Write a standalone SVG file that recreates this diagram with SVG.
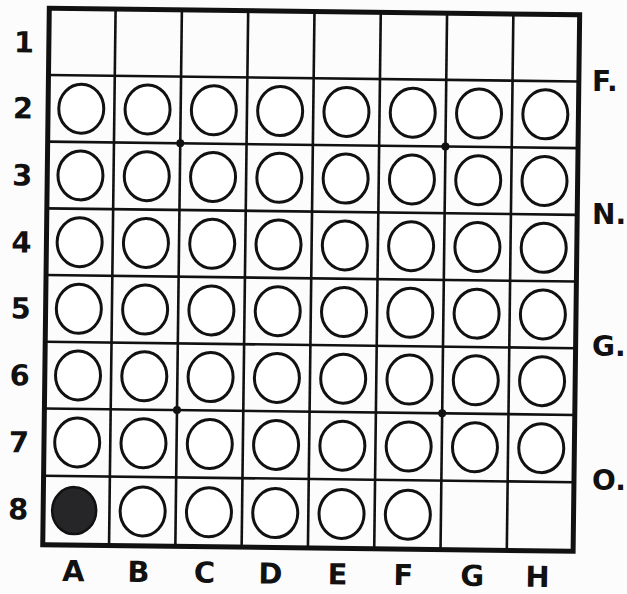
<svg xmlns="http://www.w3.org/2000/svg" width="627" height="594" viewBox="0 0 627 594">
<style>
.grid{stroke:#111;stroke-width:2.6;fill:none}
.border{stroke:#111;stroke-width:5;fill:none}
.pc{fill:#fff;stroke:#111;stroke-width:3}
.blk{fill:#262628;stroke:#111;stroke-width:2.5}
.star{fill:#111}
.lbl{font-family:"DejaVu Sans",sans-serif;font-weight:bold;font-size:29px;fill:#111;text-anchor:middle}
.side{font-family:"DejaVu Sans",sans-serif;font-weight:bold;font-size:28px;fill:#111}
</style>
<rect width="627" height="594" fill="#fcfcfc"/>
<g transform="rotate(0.7 311 280)">
<g id="board">
<rect class="border" x="46" y="11.5" width="530.4" height="536.5"/>
<g id="connectors" class="grid">
<line x1="112.3" y1="11.5" x2="112.3" y2="548"/>
<line x1="178.6" y1="11.5" x2="178.6" y2="548"/>
<line x1="244.9" y1="11.5" x2="244.9" y2="548"/>
<line x1="311.2" y1="11.5" x2="311.2" y2="548"/>
<line x1="377.5" y1="11.5" x2="377.5" y2="548"/>
<line x1="443.8" y1="11.5" x2="443.8" y2="548"/>
<line x1="510.1" y1="11.5" x2="510.1" y2="548"/>
<line x1="46" y1="78.2" x2="576.4" y2="78.2"/>
<line x1="46" y1="144.9" x2="576.4" y2="144.9"/>
<line x1="46" y1="211.6" x2="576.4" y2="211.6"/>
<line x1="46" y1="278.3" x2="576.4" y2="278.3"/>
<line x1="46" y1="345" x2="576.4" y2="345"/>
<line x1="46" y1="411.7" x2="576.4" y2="411.7"/>
<line x1="46" y1="479" x2="576.4" y2="479"/>
</g>
<g id="stars" class="star">
<circle cx="178.6" cy="144.9" r="4"/>
<circle cx="443.8" cy="144.9" r="4"/>
<circle cx="178.6" cy="411.7" r="4"/>
<circle cx="443.8" cy="411.7" r="4"/>
</g>
</g>
<g id="pieces">
<g id="row2">
<ellipse class="pc" cx="79.2" cy="111.5" rx="22.5" ry="24.5"/>
<ellipse class="pc" cx="145.5" cy="111.5" rx="22.5" ry="24.5"/>
<ellipse class="pc" cx="211.8" cy="111.5" rx="22.5" ry="24.5"/>
<ellipse class="pc" cx="278.1" cy="111.5" rx="22.5" ry="24.5"/>
<ellipse class="pc" cx="344.4" cy="111.5" rx="22.5" ry="24.5"/>
<ellipse class="pc" cx="410.7" cy="111.5" rx="22.5" ry="24.5"/>
<ellipse class="pc" cx="477" cy="111.5" rx="22.5" ry="24.5"/>
<ellipse class="pc" cx="543.3" cy="111.5" rx="22.5" ry="24.5"/>
</g>
<g id="row3">
<ellipse class="pc" cx="79.2" cy="178.2" rx="22.5" ry="24.5"/>
<ellipse class="pc" cx="145.5" cy="178.2" rx="22.5" ry="24.5"/>
<ellipse class="pc" cx="211.8" cy="178.2" rx="22.5" ry="24.5"/>
<ellipse class="pc" cx="278.1" cy="178.2" rx="22.5" ry="24.5"/>
<ellipse class="pc" cx="344.4" cy="178.2" rx="22.5" ry="24.5"/>
<ellipse class="pc" cx="410.7" cy="178.2" rx="22.5" ry="24.5"/>
<ellipse class="pc" cx="477" cy="178.2" rx="22.5" ry="24.5"/>
<ellipse class="pc" cx="543.3" cy="178.2" rx="22.5" ry="24.5"/>
</g>
<g id="row4">
<ellipse class="pc" cx="79.2" cy="245" rx="22.5" ry="24.5"/>
<ellipse class="pc" cx="145.5" cy="245" rx="22.5" ry="24.5"/>
<ellipse class="pc" cx="211.8" cy="245" rx="22.5" ry="24.5"/>
<ellipse class="pc" cx="278.1" cy="245" rx="22.5" ry="24.5"/>
<ellipse class="pc" cx="344.4" cy="245" rx="22.5" ry="24.5"/>
<ellipse class="pc" cx="410.7" cy="245" rx="22.5" ry="24.5"/>
<ellipse class="pc" cx="477" cy="245" rx="22.5" ry="24.5"/>
<ellipse class="pc" cx="543.3" cy="245" rx="22.5" ry="24.5"/>
</g>
<g id="row5">
<ellipse class="pc" cx="79.2" cy="311.6" rx="22.5" ry="24.5"/>
<ellipse class="pc" cx="145.5" cy="311.6" rx="22.5" ry="24.5"/>
<ellipse class="pc" cx="211.8" cy="311.6" rx="22.5" ry="24.5"/>
<ellipse class="pc" cx="278.1" cy="311.6" rx="22.5" ry="24.5"/>
<ellipse class="pc" cx="344.4" cy="311.6" rx="22.5" ry="24.5"/>
<ellipse class="pc" cx="410.7" cy="311.6" rx="22.5" ry="24.5"/>
<ellipse class="pc" cx="477" cy="311.6" rx="22.5" ry="24.5"/>
<ellipse class="pc" cx="543.3" cy="311.6" rx="22.5" ry="24.5"/>
</g>
<g id="row6">
<ellipse class="pc" cx="79.2" cy="378.3" rx="22.5" ry="24.5"/>
<ellipse class="pc" cx="145.5" cy="378.3" rx="22.5" ry="24.5"/>
<ellipse class="pc" cx="211.8" cy="378.3" rx="22.5" ry="24.5"/>
<ellipse class="pc" cx="278.1" cy="378.3" rx="22.5" ry="24.5"/>
<ellipse class="pc" cx="344.4" cy="378.3" rx="22.5" ry="24.5"/>
<ellipse class="pc" cx="410.7" cy="378.3" rx="22.5" ry="24.5"/>
<ellipse class="pc" cx="477" cy="378.3" rx="22.5" ry="24.5"/>
<ellipse class="pc" cx="543.3" cy="378.3" rx="22.5" ry="24.5"/>
</g>
<g id="row7">
<ellipse class="pc" cx="79.2" cy="445.3" rx="22.5" ry="24.5"/>
<ellipse class="pc" cx="145.5" cy="445.3" rx="22.5" ry="24.5"/>
<ellipse class="pc" cx="211.8" cy="445.3" rx="22.5" ry="24.5"/>
<ellipse class="pc" cx="278.1" cy="445.3" rx="22.5" ry="24.5"/>
<ellipse class="pc" cx="344.4" cy="445.3" rx="22.5" ry="24.5"/>
<ellipse class="pc" cx="410.7" cy="445.3" rx="22.5" ry="24.5"/>
<ellipse class="pc" cx="477" cy="445.3" rx="22.5" ry="24.5"/>
<ellipse class="pc" cx="543.3" cy="445.3" rx="22.5" ry="24.5"/>
</g>
<g id="row8">
<ellipse class="blk" cx="77" cy="513.5" rx="22" ry="23.5"/>
<ellipse class="pc" cx="145.5" cy="513.5" rx="22.5" ry="24.5"/>
<ellipse class="pc" cx="211.8" cy="513.5" rx="22.5" ry="24.5"/>
<ellipse class="pc" cx="278.1" cy="513.5" rx="22.5" ry="24.5"/>
<ellipse class="pc" cx="344.4" cy="513.5" rx="22.5" ry="24.5"/>
<ellipse class="pc" cx="410.7" cy="513.5" rx="22.5" ry="24.5"/>
</g>
</g>
<g id="row-labels" class="lbl">
<text x="21" y="56">1</text>
<text x="21" y="122">2</text>
<text x="21" y="189">3</text>
<text x="21" y="256">4</text>
<text x="21" y="322">5</text>
<text x="21" y="389">6</text>
<text x="21" y="456">7</text>
<text x="21" y="523">8</text>
</g>
<g id="col-labels" class="lbl">
<text x="77" y="584">A</text>
<text x="142" y="584">B</text>
<text x="208" y="584">C</text>
<text x="274" y="584">D</text>
<text x="341" y="584">E</text>
<text x="407" y="584">F</text>
<text x="476" y="584">G</text>
<text x="541" y="584">H</text>
</g>
</g>
<g id="side-labels" class="side">
<text x="592" y="91">F.</text>
<text x="592" y="224">N.</text>
<text x="592" y="356">G.</text>
<text x="592" y="490">O.</text>
</g>
</svg>
